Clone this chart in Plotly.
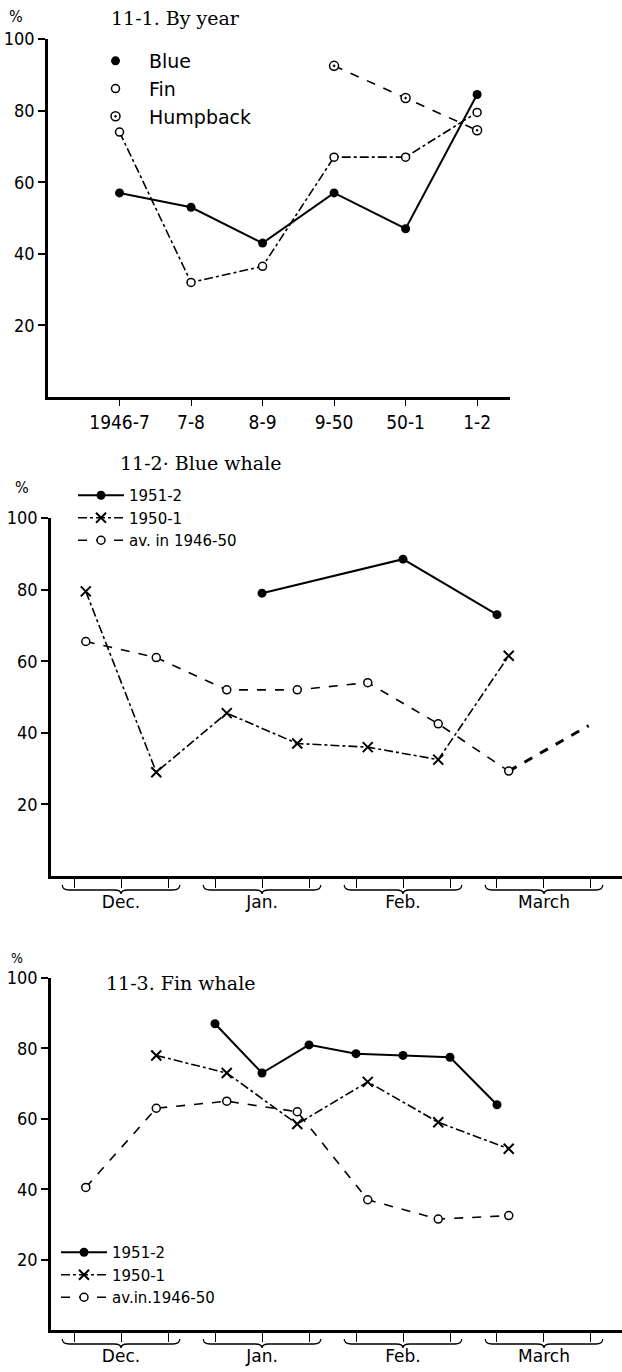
import plotly.graph_objects as go

W, H = 622, 1372
SANS = "Liberation Sans Narrow, DejaVu Sans Condensed, Roboto Condensed, Roboto, sans-serif"
WIDE = "DejaVu Sans, sans-serif"
SERIF = "DejaVu Serif, Liberation Serif, serif"

# ---------------- data -----------------
# 11-1 By year
seasons = ["1946-7", "7-8", "8-9", "9-50", "50-1", "1-2"]
blue_by_year = [57, 53, 43, 57, 47, 84.5]
fin_by_year = [74, 32, 36.5, 67, 67, 79.5]
humpback_by_year = [None, None, None, 92.5, 83.5, 74.5]

# 11-2 / 11-3 : x in 10-day periods (Dec. first = 0 ... March last = 11)
months = ["Dec.", "Jan.", "Feb.", "March"]
month_centres = [1, 4, 7, 10]
half_month_pos = [0.25, 1.75, 3.25, 4.75, 6.25, 7.75, 9.25]

blue_1951_pos = [4, 7, 9]
blue_1951 = [79, 88.5, 73]
blue_1950 = [79.5, 29, 45.5, 37, 36, 32.5, 61.5]
blue_avg = [65.5, 61, 52, 52, 54, 42.5, 29.3]
blue_avg_tail_pos = [9.25, 10.95]
blue_avg_tail = [29.3, 42]

fin_1951_pos = [3, 4, 5, 6, 7, 8, 9]
fin_1951 = [87, 73, 81, 78.5, 78, 77.5, 64]
fin_1950_pos = [1.75, 3.25, 4.75, 6.25, 7.75, 9.25]
fin_1950 = [78, 73, 58.5, 70.5, 59, 51.5]
fin_avg = [40.5, 63, 65, 62, 37, 31.5, 32.5]

yticks = [20, 40, 60, 80, 100]

# ---------------- layout geometry (pixels) -----------------
def ydom(top_px, bottom_px):
    return [1 - bottom_px / H, 1 - top_px / H]

P1_X = [48 / W, 510 / W]
P1_Y = ydom(39, 397)
P1_XR = [-1.0, 5.46]
P23_X = [51 / W, 1.0]
P23_XR = [-0.49, 11.66]
P2_Y = ydom(518, 876)
P3_Y = ydom(978, 1330)

BLACK = "black"
filled = dict(symbol="circle", size=9, color=BLACK)
opened = dict(symbol="circle", size=8, color="white", line=dict(color=BLACK, width=1.5))
dotted = dict(symbol="circle-dot", size=9, color="white", line=dict(color=BLACK, width=1.5))
cross = dict(symbol="x-thin", size=10, color=BLACK, line=dict(color=BLACK, width=2))

fig = go.Figure()

# ---- panel 1 ----
fig.add_trace(go.Scatter(x=seasons, y=blue_by_year, mode="lines+markers", xaxis="x", yaxis="y",
                         line=dict(color=BLACK, width=2), marker=filled, showlegend=False))
fig.add_trace(go.Scatter(x=seasons, y=fin_by_year, mode="lines+markers", xaxis="x", yaxis="y",
                         line=dict(color=BLACK, width=1.6, dash="dashdot"), marker=opened, showlegend=False))
fig.add_trace(go.Scatter(x=seasons, y=humpback_by_year, mode="lines+markers", xaxis="x", yaxis="y",
                         line=dict(color=BLACK, width=1.6, dash="dash"), marker=dotted, showlegend=False))
for name, mk in [("Blue", filled), ("Fin", opened), ("Humpback", dotted)]:
    fig.add_trace(go.Scatter(x=[None], y=[None], mode="markers", name=name, marker=mk,
                             xaxis="x", yaxis="y", legend="legend"))

# ---- panel 2 ----
fig.add_trace(go.Scatter(x=blue_1951_pos, y=blue_1951, mode="lines+markers", name="1951-2",
                         xaxis="x2", yaxis="y2", legend="legend2",
                         line=dict(color=BLACK, width=2), marker=filled))
fig.add_trace(go.Scatter(x=half_month_pos, y=blue_1950, mode="lines+markers", name="1950-1",
                         xaxis="x2", yaxis="y2", legend="legend2",
                         line=dict(color=BLACK, width=1.6, dash="dashdot"), marker=cross))
fig.add_trace(go.Scatter(x=blue_avg_tail_pos, y=blue_avg_tail, mode="lines", showlegend=False,
                         xaxis="x2", yaxis="y2", line=dict(color=BLACK, width=3, dash="dash")))
fig.add_trace(go.Scatter(x=half_month_pos, y=blue_avg, mode="lines+markers", name="av. in 1946-50",
                         xaxis="x2", yaxis="y2", legend="legend2",
                         line=dict(color=BLACK, width=1.6, dash="dash"), marker=opened))

# ---- panel 3 ----
fig.add_trace(go.Scatter(x=fin_1951_pos, y=fin_1951, mode="lines+markers", name="1951-2",
                         xaxis="x3", yaxis="y3", legend="legend3",
                         line=dict(color=BLACK, width=2), marker=filled))
fig.add_trace(go.Scatter(x=fin_1950_pos, y=fin_1950, mode="lines+markers", name="1950-1",
                         xaxis="x3", yaxis="y3", legend="legend3",
                         line=dict(color=BLACK, width=1.6, dash="dashdot"), marker=cross))
fig.add_trace(go.Scatter(x=half_month_pos, y=fin_avg, mode="lines+markers", name="av.in.1946-50",
                         xaxis="x3", yaxis="y3", legend="legend3",
                         line=dict(color=BLACK, width=1.6, dash="dash"), marker=opened))

# ---- axes ----
def yaxis(dom, anchor):
    return dict(domain=dom, anchor=anchor, range=[0, 100], tickvals=yticks,
                showline=True, linecolor=BLACK, linewidth=2.5, ticks="outside", ticklen=7,
                tickwidth=1.5, tickcolor=BLACK, showgrid=False, zeroline=False,
                tickfont=dict(family=SANS, size=18, color=BLACK), automargin=False)

def month_xaxis(anchor):
    return dict(domain=P23_X, anchor=anchor, range=P23_XR, tickmode="array",
                tickvals=month_centres, ticktext=months, ticks="", ticklabelstandoff=9,
                showline=True, linecolor=BLACK, linewidth=2.5, showgrid=False, zeroline=False,
                minor=dict(tick0=0, dtick=1, ticks="outside", ticklen=9, tickwidth=1.3,
                           tickcolor=BLACK, showgrid=False),
                tickfont=dict(family=WIDE, size=17, color=BLACK), automargin=False)

legend_common = dict(xanchor="left", yanchor="top", bgcolor="rgba(0,0,0,0)", tracegroupgap=0)

fig.update_layout(
    width=W, height=H, margin=dict(l=0, r=0, t=0, b=0),
    paper_bgcolor="white", plot_bgcolor="white", template="none",
    xaxis=dict(domain=P1_X, anchor="y", type="category", categoryarray=seasons,
               range=P1_XR, showline=True, linecolor=BLACK, linewidth=2.5, ticks="outside",
               ticklen=6, tickwidth=1.3, tickcolor=BLACK, showgrid=False, zeroline=False,
               tickfont=dict(family=SANS, size=19, color=BLACK), automargin=False),
    yaxis=yaxis(P1_Y, "x"),
    xaxis2=month_xaxis("y2"),
    yaxis2=yaxis(P2_Y, "x2"),
    xaxis3=month_xaxis("y3"),
    yaxis3=yaxis(P3_Y, "x3"),
    legend=dict(x=82 / W, y=1 - 42 / H, itemwidth=57,
                font=dict(family=WIDE, size=19, color=BLACK), **legend_common),
    legend2=dict(x=73 / W, y=1 - 479 / H, itemwidth=46,
                 font=dict(family=WIDE, size=15, color=BLACK), **legend_common),
    legend3=dict(x=56 / W, y=1 - 1236 / H, itemwidth=46,
                 font=dict(family=WIDE, size=15, color=BLACK), **legend_common),
)

# ---- titles and % labels ----
for text, xpx, ypx in [("11-1. By year", 175, 18), ("11-2· Blue whale", 200, 463),
                       ("11-3. Fin whale", 180, 983)]:
    fig.add_annotation(text=text, x=xpx / W, y=1 - ypx / H, xref="paper", yref="paper",
                       showarrow=False, xanchor="center", yanchor="middle",
                       font=dict(family=SERIF, size=19, color=BLACK))
for xpx, ypx, sz in [(16, 17, 16), (22, 487, 16), (17, 958, 14)]:
    fig.add_annotation(text="%", x=xpx / W, y=1 - ypx / H, xref="paper", yref="paper",
                       showarrow=False, xanchor="center", yanchor="middle",
                       font=dict(family=SANS, size=sz, color=BLACK))

# ---- month braces under the 10-day ticks ----
def brace_path(x0, x1, xm, y_end, y_line, y_tip, d):
    return (f"M{x0},{y_end} Q{x0},{y_line} {x0 + d},{y_line} L{xm - d},{y_line} "
            f"Q{xm},{y_line} {xm},{y_tip} Q{xm},{y_line} {xm + d},{y_line} "
            f"L{x1 - d},{y_line} Q{x1},{y_line} {x1},{y_end}")

span = P23_XR[1] - P23_XR[0]
for dom, xr, yr in [(P2_Y, "x2 domain", "y2 domain"), (P3_Y, "x3 domain", "y3 domain")]:
    hpx = (dom[1] - dom[0]) * H
    for c in month_centres:
        f = lambda v: (v - P23_XR[0]) / span
        x0, x1, xm = f(c - 1.25), f(c + 1.25), f(c)
        fig.add_shape(type="path", xref=xr, yref=yr,
                      path=brace_path(x0, x1, xm, -9 / hpx, -14 / hpx, -18 / hpx, 0.012),
                      line=dict(color=BLACK, width=1.3))

fig.write_html("out.html", config={"displayModeBar": False},
               post_script="document.body.style.margin='0px';")
